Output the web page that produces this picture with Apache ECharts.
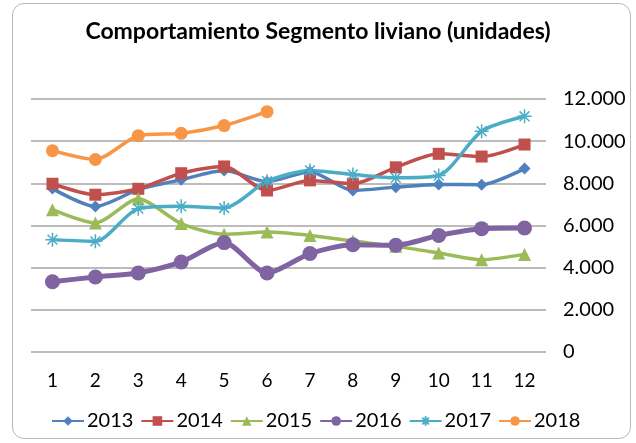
<!DOCTYPE html>
<html>
<head>
<meta charset="utf-8">
<script src="https://cdn.jsdelivr.net/npm/echarts@6/dist/echarts.min.js"></script>
<style>
  html, body { margin: 0; padding: 0; background: #fff; }
  #frame {
    position: absolute; left: 12px; top: 3px; width: 619px; height: 436px;
    border: 1.5px solid #b8b8b8; border-radius: 12px; box-sizing: border-box;
  }
  #chart { position: absolute; left: 0; top: 0; width: 636px; height: 443px; }
</style>
</head>
<body>
<div id="frame"></div>
<div id="chart"></div>
<script>
// meses
const months = ['1', '2', '3', '4', '5', '6', '7', '8', '9', '10', '11', '12']

// unidades por año
const s2013 = [7750, 6900, 7700, 8170, 8610, 8080, 8550, 7660, 7820, 7950, 7930, 8700]
const s2014 = [7980, 7460, 7740, 8480, 8800, 7660, 8140, 7980, 8760, 9400, 9270, 9840]
const s2015 = [6750, 6120, 7270, 6090, 5580, 5690, 5530, 5260, 5010, 4700, 4380, 4630]
const s2016 = [3330, 3560, 3750, 4270, 5190, 3750, 4670, 5090, 5060, 5530, 5850, 5880]
const s2017 = [5330, 5250, 6800, 6910, 6830, 8100, 8610, 8420, 8260, 8370, 10470, 11180]
const s2018 = [9550, 9130, 10260, 10370, 10740, 11400]

const yTicks = { min: 0, max: 12000, interval: 2000 }

const FONT = 'Lato, "Open Sans", sans-serif'

const mkSeries = (name, data, color, symbol, size, width) => ({
    name,
    type: 'line',
    data,
    smooth: 0.25,
    symbol,
    symbolSize: size,
    lineStyle: { color, width },
    itemStyle: { color, borderColor: color, borderWidth: 0 },
})

// asterisco de 2017
const star = 'path://M0,-10L0,10M-10,0L10,0M-7,-7L7,7M-7,7L7,-7'

const series = [
    mkSeries('2013', s2013, '#4F81BD', 'diamond', 12, 3.5),
    mkSeries('2014', s2014, '#C0504D', 'rect', 12, 3.5),
    mkSeries('2015', s2015, '#9BBB59', 'triangle', 13, 3.5),
    mkSeries('2016', s2016, '#8064A2', 'circle', 15, 5),
    {
        ...mkSeries('2017', s2017, '#4BACC6', star, 14, 3.5),
        itemStyle: { color: 'none', borderColor: '#4BACC6', borderWidth: 1.5 },
    },
    mkSeries('2018', s2018, '#F79646', 'circle', 13, 3.5),
]

const chart = echarts.init(document.getElementById('chart'), null, { renderer: 'canvas' })
chart.setOption({
    animation: false,
    title: {
        text: 'Comportamiento Segmento liviano (unidades)',
        left: 'center',
        top: 15,
        textStyle: { fontFamily: FONT, fontSize: 23, fontWeight: 'bold', color: '#000' },
    },
    legend: {
        top: 406,
        left: 46,
        itemGap: 7,
        itemWidth: 32,
        itemHeight: 12,
        textStyle: { fontFamily: FONT, fontSize: 20, color: '#000', padding: [0, 0, 0, -2] },
        data: series.map((s) => s.name),
    },
    grid: { left: 31, right: 90, top: 99, bottom: 91 },
    xAxis: {
        type: 'category',
        data: months,
        boundaryGap: true,
        axisLine: { show: false },
        axisTick: { show: false },
        axisLabel: { fontFamily: FONT, fontSize: 19, color: '#000', margin: 19 },
    },
    yAxis: {
        type: 'value',
        position: 'right',
        ...yTicks,
        axisLine: { show: false },
        axisTick: { show: false },
        splitLine: { lineStyle: { color: '#a6a6a6', width: 1.5 } },
        axisLabel: {
            fontFamily: FONT, fontSize: 20, color: '#000', margin: 17,
            formatter: (v) => v === 0 ? '0' : (v / 1000).toFixed(3),
        },
    },
    series,
})
</script>
</body>
</html>
